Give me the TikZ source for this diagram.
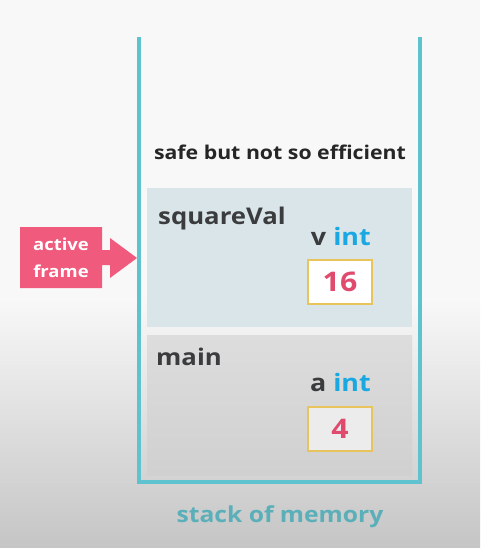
\documentclass[tikz,border=0pt]{standalone}
\usepackage{fontspec}
\setmainfont[FakeStretch=1.12]{Open Sans}
\definecolor{teal}{HTML}{5EC2CF}
\definecolor{tealtext}{HTML}{5AAFB9}
\definecolor{pinkbox}{HTML}{F05A7C}
\definecolor{darktext}{HTML}{3A3C3E}
\definecolor{blueint}{HTML}{1AA8E2}
\definecolor{valpink}{HTML}{E04A6C}
\definecolor{gold}{HTML}{E8C45C}
\definecolor{activebg}{HTML}{D9E5E9}
\definecolor{bgtop}{HTML}{F8F8F8}
\definecolor{bgbot}{HTML}{C5C5C5}
\begin{document}
\begin{tikzpicture}[x=1pt,y=-1pt,
  lbl/.style={font=\bfseries\fontsize{23}{26}\selectfont, text=darktext, inner sep=0pt},
  typ/.style={font=\bfseries\fontsize{24}{28}\selectfont, text=darktext, inner sep=0pt},
  valbox/.style={draw=gold, line width=2pt, minimum width=64pt, minimum height=44pt, inner sep=0pt, font=\bfseries\fontsize{27}{30}\selectfont, text=valpink}]
\useasboundingbox (0,0) rectangle (480,548);
\fill[bgtop] (0,0) rectangle (480,300);
\shade[top color=bgtop, bottom color=bgbot] (0,299) rectangle (480,548);
% frames
\fill[activebg] (147,188) rectangle (412,327);
\shade[top color={rgb,255:red,221;green,221;blue,221}, bottom color={rgb,255:red,208;green,208;blue,208}] (147,335) rectangle (412,475);
% stack container
\draw[teal, line width=4pt] (139,37) -- (139,482) -- (420,482) -- (420,37);
% title
\node[lbl, font=\bfseries\fontsize{19}{22}\selectfont, text=black!85, anchor=base] (title) at (280,160) {safe but not so efficient};
% squareVal frame
\node[lbl, anchor=base west] (sqv) at (158,224) {squareVal};
\node[typ, anchor=base east] (vint) at (371,245) {v \textcolor{blueint}{int}};
\node[valbox, fill=white] (v16) at (340,281.5) {16};
% main frame
\node[lbl, anchor=base west] (mainl) at (156,365) {main};
\node[typ, anchor=base east] (aint) at (371,391) {a \textcolor{blueint}{int}};
\node[valbox, fill={rgb,255:red,236;green,236;blue,236}] (a4) at (340,428.5) {4};
% stack label
\node[font=\bfseries\fontsize{22}{25}\selectfont, text=tealtext, anchor=base] (stk) at (280,522) {stack of memory};
% active frame arrow
\fill[pinkbox] (20,227) -- (102,227) -- (102,250) -- (110,250) -- (110,238) -- (137,258) -- (110,278) -- (110,265) -- (102,265) -- (102,288) -- (20,288) -- cycle;
\node[font=\bfseries\fontsize{16.5}{27}\selectfont, text=white, align=center] (act) at (61,257.5) {active\\frame};
\end{tikzpicture}
\end{document}
